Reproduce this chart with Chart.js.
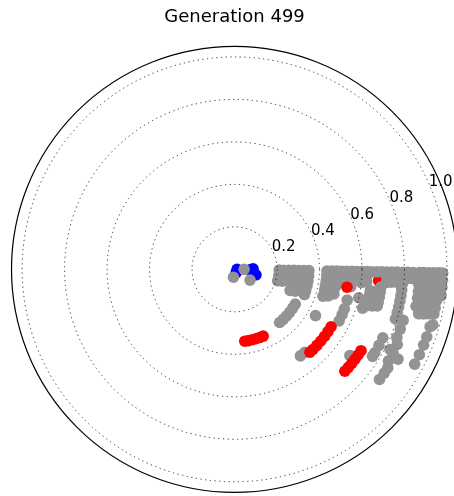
<!DOCTYPE html>
<html>
<head>
<meta charset="utf-8">
<script src="https://cdn.jsdelivr.net/npm/chart.js@4"></script>
<style>
  html, body { margin: 0; padding: 0; background: #fff; overflow: hidden; }
  canvas { display: block; }
</style>
</head>
<body>
<canvas id="canvas" width="480" height="496"></canvas>
<script>
// ---------------------------------------------
// Data: polar points, radius + angle (degrees)
// each radius has its own list of angles
// ---------------------------------------------
const titleText = 'Generation 499';
const rTicks = [0.2, 0.4, 0.6, 0.8, 1.0];
const rTickLabels = ['0.2', '0.4', '0.6', '0.8', '1.0'];
const rMax = 1.05;
const labelAngle = 22.5;

const blueR = [0.012, 0.018, 0.073, 0.087, 0.104];
const blueAngles = [[0], [-67], [-2], [1.5], [-14.4]];

const grayR = [
    0.045, 0.038, 0.089,
    0.21, 0.233, 0.256, 0.28, 0.304, 0.327, 0.35,
    0.435, 0.459, 0.482, 0.506, 0.529, 0.553, 0.576,
    0.6, 0.624, 0.647, 0.671, 0.694, 0.718, 0.741, 0.765,
    0.793, 0.816, 0.84, 0.872, 0.892, 0.915, 0.939, 0.962, 0.98,
    0.33, 0.44, 0.55, 0.515, 0.68, 0.63, 0.6, 0.77,
    0.83, 0.845, 0.86, 0.825, 0.88, 0.96, 0.97
];
const grayAngles = [
    [0], [-98], [-35],
    [-1, -8, -15],
    [-1, -7, -14],
    [-1, -5],
    [-1, -6, -11, -16, -21],
    [-1, -5, -10, -15, -20],
    [-1, -5],
    [-1, -5, -9, -13, -17, -20],
    [-1, -4, -7, -10, -13, -17],
    [-1, -4, -7, -10, -13, -16],
    [-1, -4, -7, -10, -14],
    [-1, -4, -7],
    [-1, -4, -6.5],
    [-1, -4, -8.5],
    [-1, -4],
    [-1, -3, -6],
    [-1, -3, -5.5],
    [-1, -9, -11, -13, -15.5],
    [-1, -9, -11, -13, -15],
    [-1, -7, -9, -11, -13, -14.5],
    [-1, -3, -5],
    [-1, -3, -4.7],
    [-1, -3, -4.6],
    [-1, -3, -5, -7, -9, -11, -13, -15, -17.3],
    [-1, -3],
    [-1, -3],
    [-1, -3, -5, -7, -9, -11.6],
    [-1, -3, -5, -7, -9, -11, -13.7],
    [-1, -3, -5, -7, -9, -11, -13.4],
    [-1, -3, -5, -7, -9, -11, -13],
    [-1, -3, -5, -7, -9, -11, -12.7],
    [-1, -3, -5, -7.4],
    [-30, -34, -38, -42, -46, -50],
    [-30],
    [-15.4, -20, -23, -26.5],
    [-50, -53],
    [-37],
    [-17],
    [-13],
    [-25, -28, -31, -32.5],
    [-17, -20, -23],
    [-25, -28, -31],
    [-33, -35, -37.5],
    [-27.5],
    [-29],
    [-16.5, -19.5, -22, -25, -28],
    [-15.8]
];

// red point that sits underneath the gray band
const redBackR = [0.68];
const redBackAngles = [[-4.5]];

const redR = [0.536, 0.345, 0.53, 0.71];
const redAngles = [
    [-9.1],
    [-82, -79, -76, -73, -70, -67],
    [-31, -34, -37, -40, -43, -46, -48],
    [-33, -35, -37, -39, -41, -43]
];

// polar -> x/y for the scatter scales
function toXY(radii, angles) {
    const pts = [];
    radii.forEach((r, i) => {
        angles[i].forEach(deg => {
            const t = deg * Math.PI / 180;
            pts.push({ x: r * Math.cos(t), y: r * Math.sin(t) });
        });
    });
    return pts;
}

// ---------------------------------------------
// Polar grid, outer ring, r labels and title
// ---------------------------------------------
const polarGrid = {
    id: 'polarGrid',
    afterDatasetsDraw(chart) {
        const { ctx, scales: { x, y } } = chart;
        const cx = x.getPixelForValue(0);
        const cy = y.getPixelForValue(0);
        const unit = x.getPixelForValue(1) - cx;

        ctx.save();
        ctx.setLineDash([1.2, 3.5]);
        ctx.lineWidth = 1;
        ctx.strokeStyle = 'rgba(0, 0, 0, 0.8)';
        rTicks.forEach(r => {
            ctx.beginPath();
            ctx.arc(cx, cy, r * unit, 0, 2 * Math.PI);
            ctx.stroke();
        });

        ctx.setLineDash([]);
        ctx.lineWidth = 1.2;
        ctx.strokeStyle = '#000';
        ctx.beginPath();
        ctx.arc(cx, cy, rMax * unit, 0, 2 * Math.PI);
        ctx.stroke();

        const a = labelAngle * Math.PI / 180;
        ctx.fillStyle = '#000';
        ctx.font = '15px "DejaVu Sans"';
        ctx.textAlign = 'left';
        ctx.textBaseline = 'alphabetic';
        rTicks.forEach((r, i) => {
            const px = cx + r * unit * Math.cos(a);
            const py = cy - r * unit * Math.sin(a);
            ctx.fillText(rTickLabels[i], px - 2, py - 2);
        });
        ctx.restore();
    },
    afterDraw(chart) {
        const { ctx } = chart;
        const cx = chart.scales.x.getPixelForValue(0);
        ctx.save();
        ctx.fillStyle = '#000';
        ctx.font = '18px "DejaVu Sans"';
        ctx.textAlign = 'center';
        ctx.textBaseline = 'alphabetic';
        ctx.fillText(titleText, cx, 21.5);
        ctx.restore();
    }
};

const pointStyle = { pointRadius: 5.8, pointHoverRadius: 5.8, pointBorderWidth: 0, borderWidth: 0 };

new Chart(document.getElementById('canvas'), {
    type: 'scatter',
    data: {
        datasets: [
            { label: 'red', data: toXY(redBackR, redBackAngles), backgroundColor: '#ff0000', order: 4, ...pointStyle },
            { label: 'blue', data: toXY(blueR, blueAngles), backgroundColor: '#0000ff', order: 3, ...pointStyle },
            { label: 'gray', data: toXY(grayR, grayAngles), backgroundColor: '#939393', order: 2, ...pointStyle },
            { label: 'red', data: toXY(redR, redAngles), backgroundColor: '#ff0000', order: 1, ...pointStyle }
        ]
    },
    options: {
        responsive: false,
        animation: false,
        layout: { padding: { left: 11.5, top: 48.5, right: 22.4, bottom: 1.4 } },
        plugins: {
            legend: { display: false },
            tooltip: { enabled: false },
            title: { display: false }
        },
        scales: {
            x: { type: 'linear', min: -rMax, max: rMax, display: false },
            y: { type: 'linear', min: -rMax, max: rMax, display: false }
        }
    },
    plugins: [polarGrid]
});
</script>
</body>
</html>
